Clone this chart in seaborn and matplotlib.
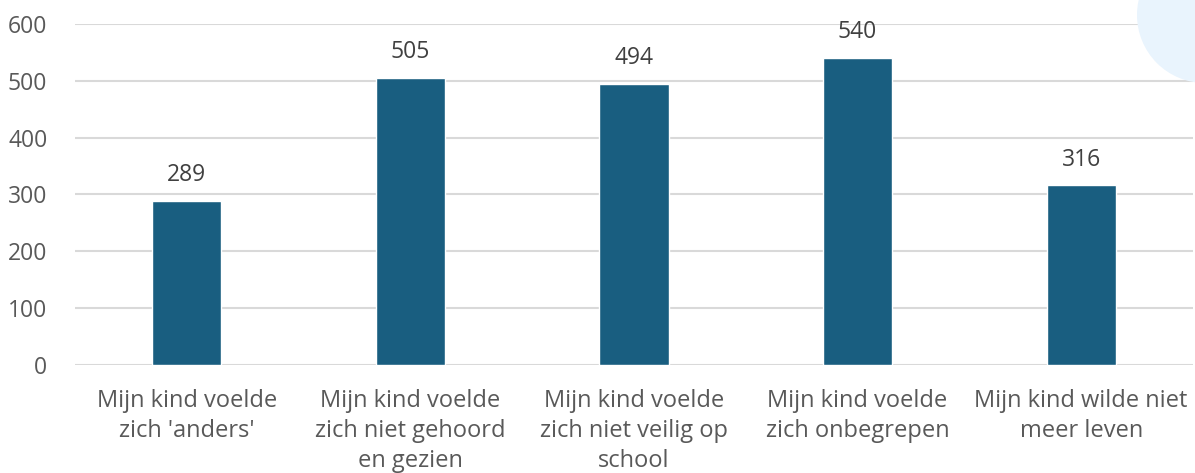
import matplotlib
matplotlib.use("Agg")
import matplotlib.pyplot as plt
import seaborn as sns
import pandas as pd
from matplotlib.patches import Circle

categories = [
    "Mijn kind voelde\nzich 'anders'",
    "Mijn kind voelde\nzich niet gehoord\nen gezien",
    "Mijn kind voelde\nzich niet veilig op\nschool",
    "Mijn kind voelde\nzich onbegrepen",
    "Mijn kind wilde niet\nmeer leven",
]
values = [289, 505, 494, 540, 316]
yticks = [0, 100, 200, 300, 400, 500, 600]

bar_color = "#195e80"
text_color = "#595959"
grid_color = "#d9d9d9"

df = pd.DataFrame({"categorie": categories, "aantal": values})

sns.set_style("white")
plt.rcParams["font.family"] = ["Open Sans", "DejaVu Sans"]

fig = plt.figure(figsize=(11.95, 4.73), dpi=100)

# light blue decorative circle in top right corner
circ = Circle((12.05, 4.58), 0.68, transform=fig.dpi_scale_trans,
              facecolor="#e9f4fd", edgecolor="none", zorder=0)
fig.patches.append(circ)

ax = fig.add_axes([0.0628, 0.2283, 0.9355, 0.721])
ax.set_facecolor("none")

sns.barplot(data=df, x="categorie", y="aantal", color=bar_color,
            width=0.31, saturation=1, ax=ax, zorder=3)

ax.bar_label(ax.containers[0], labels=[str(v) for v in values],
             padding=10, fontsize=16.5, color="#404040")

ax.set_ylim(0, 600)
ax.set_yticks(yticks)
ax.set_xlim(-0.5, len(categories) - 0.5)
ax.yaxis.grid(True, color=grid_color, linewidth=1.5, zorder=0)
ax.set_axisbelow(True)
for s in ax.spines.values():
    s.set_visible(False)

ax.tick_params(axis="y", length=0, pad=20, labelsize=16.5, labelcolor=text_color)
ax.tick_params(axis="x", length=0, pad=17, labelsize=17, labelcolor=text_color)
for lbl in ax.get_xticklabels():
    lbl.set_linespacing(1.35)
ax.set_xlabel("")
ax.set_ylabel("")

fig.savefig("out.png", dpi=100)
